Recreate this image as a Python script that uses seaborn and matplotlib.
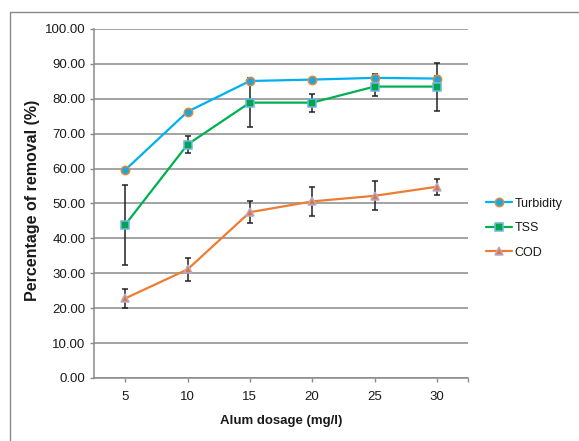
import numpy as np
import pandas as pd
import matplotlib
matplotlib.use("Agg")
import matplotlib.pyplot as plt
import seaborn as sns
from matplotlib.patches import Rectangle
from matplotlib.ticker import FormatStrFormatter

# ---- data ----
dosage = [5, 10, 15, 20, 25, 30]
turbidity = [59.6, 76.3, 85.1, 85.5, 86.0, 85.8]
turbidity_err = [0.5, 0.6, 0.5, 0.6, 1.1, 0.8]
tss = [43.9, 66.9, 78.9, 78.9, 83.5, 83.5]
tss_err = [11.5, 2.4, 7.1, 2.6, 2.7, 6.9]
cod = [22.8, 31.1, 47.5, 50.6, 52.2, 54.8]
cod_err = [2.7, 3.3, 3.1, 4.1, 4.2, 2.3]
series_names = ["Turbidity", "TSS", "COD"]
y_ticks = [0, 10, 20, 30, 40, 50, 60, 70, 80, 90, 100]

sns.set_style("white")
plt.rcParams["font.family"] = ["Liberation Sans", "DejaVu Sans"]

W, H = 579, 441
fig = plt.figure(figsize=(W / 100, H / 100), dpi=100)
ax = fig.add_axes([94 / W, (H - 378) / H, 374 / W, 349 / H])

grey = "#8a8a8a"
txt = "#1a1a1a"
styles = [
    dict(color="#00B0F0", marker="o", mfc="#1AA7E0", mec="#E08A3C", ms=6.0),
    dict(color="#00B050", marker="s", mfc="#00A550", mec="#6FB7E0", ms=5.4),
    dict(color="#ED7D31", marker="^", mfc="#E8752A", mec="#B8A9D0", ms=6.0),
]
vals = [turbidity, tss, cod]
errs = [turbidity_err, tss_err, cod_err]

for name, v, e, st in zip(series_names, vals, errs, styles):
    ax.errorbar(dosage, v, yerr=e, fmt="none", ecolor="#222222", elinewidth=1.1,
                capsize=2.4, capthick=1.1, zorder=2)
    sns.lineplot(x=dosage, y=v, ax=ax, color=st["color"], marker=st["marker"],
                 markerfacecolor=st["mfc"], markeredgecolor=st["mec"],
                 markeredgewidth=1.1, markersize=st["ms"], linewidth=1.6,
                 label=name, zorder=3, errorbar=None)

ax.set_xlim(2.5, 32.5)
ax.set_ylim(0, 100)
ax.set_xticks(dosage)
ax.set_xticks([32.5], minor=True)
ax.set_yticks(y_ticks)
ax.yaxis.set_major_formatter(FormatStrFormatter("%.2f"))
ax.yaxis.grid(True, color=grey, linewidth=1.1)
ax.xaxis.grid(False)
ax.set_axisbelow(True)

for s in ["top", "right"]:
    ax.spines[s].set_visible(False)
for s in ["left", "bottom"]:
    ax.spines[s].set_color(grey)
    ax.spines[s].set_linewidth(1.1)

ax.tick_params(axis="y", which="major", direction="out", length=3, width=1,
               color=grey, labelsize=9.5, labelcolor=txt, pad=3, left=True)
ax.tick_params(axis="x", which="both", direction="out", length=3, width=1,
               color=grey, labelsize=9.5, labelcolor=txt, pad=6, bottom=True)

ax.set_xlabel("Alum dosage (mg/l)", fontsize=9.5, fontweight="bold", color=txt,
              va="center")
ax.xaxis.set_label_coords(0.5, (378 - 421) / 349)
ax.set_ylabel("Percentage of removal (%)", fontsize=11.5, fontweight="bold",
              color=txt, va="center")
ax.yaxis.set_label_coords((33 - 94) / 374, (378 - 200) / 349)

leg = ax.legend(loc="center left", bbox_to_anchor=(486 / W, 1 - 228 / H),
                bbox_transform=fig.transFigure, frameon=False, fontsize=9,
                handlelength=2.1, handletextpad=0.2, labelspacing=1.0,
                borderpad=0, borderaxespad=0)
for t in leg.get_texts():
    t.set_color(txt)

# outer chart frame (cropped on the right and bottom)
fig.add_artist(Rectangle((10 / W, -0.2), 1.2, (H - 12) / H + 0.2,
                         transform=fig.transFigure, fill=False,
                         edgecolor=grey, linewidth=1.0))

fig.savefig("out.png", dpi=100)
